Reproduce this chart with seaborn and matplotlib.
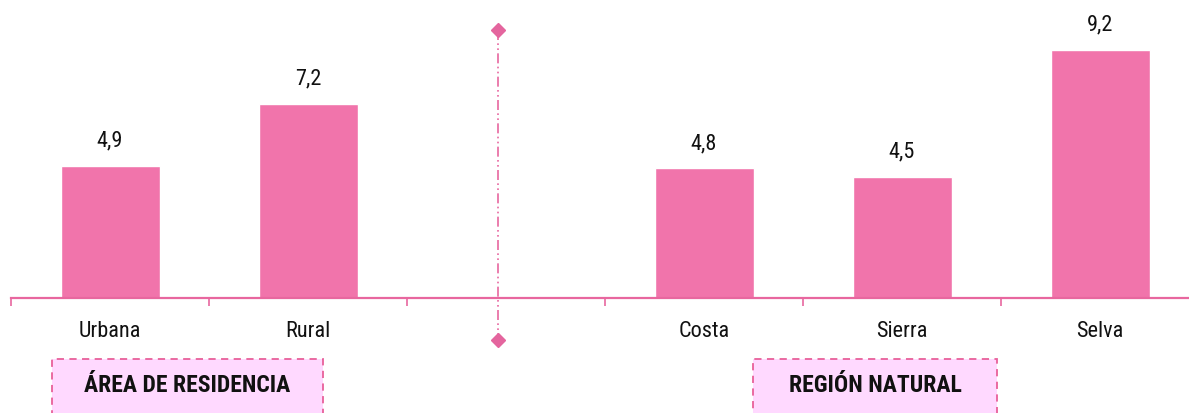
import matplotlib
matplotlib.use("Agg")
import matplotlib.pyplot as plt
from matplotlib.patches import Rectangle
import seaborn as sns
import pandas as pd
import numpy as np

categories = ["Urbana", "Rural", "", "Costa", "Sierra", "Selva"]
values = [4.9, 7.2, np.nan, 4.8, 4.5, 9.2]
group_labels = ["ÁREA DE RESIDENCIA", "REGIÓN NATURAL"]

BAR = "#F174AB"
LINE = "#E8679F"
BOX_FILL = "#FFD9FF"

sns.set_style("white")
plt.rcParams["font.family"] = ["Roboto Condensed", "DejaVu Sans"]

df = pd.DataFrame({"cat": categories, "val": values})

fig = plt.figure(figsize=(11.89, 4.14), dpi=100)
W, H = 1189, 414
ax = fig.add_axes([11 / W, (H - 299) / H, 1188 / W, 299 / H])

sns.barplot(data=df, x="cat", y="val", order=categories, color=BAR,
            width=0.5, saturation=1, ax=ax, errorbar=None)

ax.set_xlim(-0.5, 5.5)
ax.set_ylim(0, 299 / 27)
ax.set_xlabel("")
ax.set_ylabel("")
ax.set_yticks([])
for s in ["top", "right", "left"]:
    ax.spines[s].set_visible(False)
ax.spines["bottom"].set_color(LINE)
ax.spines["bottom"].set_linewidth(1.6)

ax.set_xticks(range(len(categories)))
ax.set_xticklabels(categories, fontsize=16, color="#111111")
ax.tick_params(axis="x", which="major", length=0, pad=16, bottom=True)
ax.set_xticks(np.arange(-0.5, 6.0, 1.0), minor=True)
ax.tick_params(axis="x", which="minor", length=6, width=1.2, color=LINE,
               direction="out", bottom=True)

for cont in ax.containers:
    labels = [("" if np.isnan(v) else f"{v:.1f}".replace(".", ",")) for v in cont.datavalues]
    ax.bar_label(cont, labels=labels, padding=11, fontsize=16, color="#111111")

# separator between the two groups
sep_x = 1.96
ax.plot([sep_x, sep_x], [9.93, -1.56], color=LINE, lw=1.2,
        linestyle=(0, (6, 2, 1, 2, 1, 2)), clip_on=False, zorder=3)
ax.plot([sep_x, sep_x], [9.93, -1.56], linestyle="none", marker="D",
        markersize=7, color="#E4659E", clip_on=False, zorder=4)

# group caption boxes
boxes = [(52, 323), (753, 997)]
for (x0, x1), label in zip(boxes, group_labels):
    rect = Rectangle((x0 / W, -10 / H), (x1 - x0) / W, (H - 360 + 10) / H,
                     transform=fig.transFigure, facecolor=BOX_FILL,
                     edgecolor="#E8609A", linewidth=1.3, linestyle=(0, (4, 3)))
    fig.patches.append(rect)
    fig.text((x0 + x1) / 2 / W, (H - 386) / H, label, ha="center", va="center",
             fontsize=17, fontweight="bold", color="#111111")

fig.savefig("out.png", dpi=100)
